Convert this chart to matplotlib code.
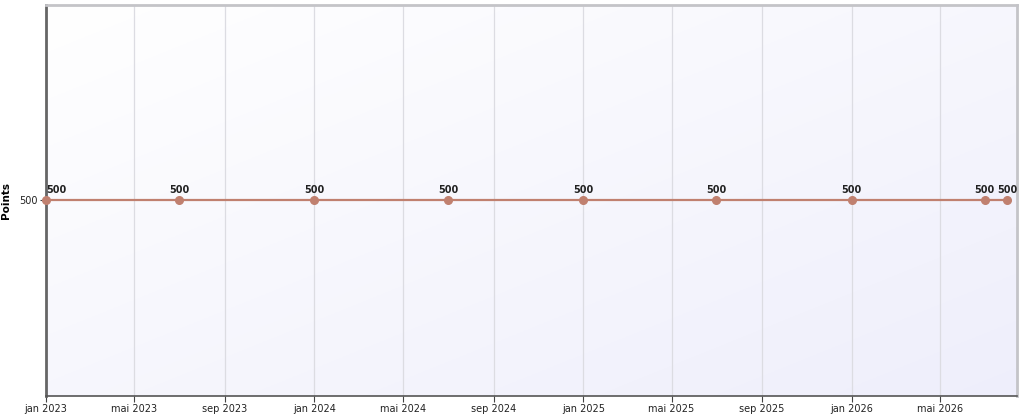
import datetime as dt
import numpy as np
import matplotlib
matplotlib.use("Agg")
import matplotlib.pyplot as plt
import matplotlib.dates as mdates

# data
dates = [dt.date(2023, 1, 1), dt.date(2023, 7, 1), dt.date(2024, 1, 1),
         dt.date(2024, 7, 1), dt.date(2025, 1, 1), dt.date(2025, 7, 1),
         dt.date(2026, 1, 1), dt.date(2026, 7, 1), dt.date(2026, 8, 1)]
points = [500, 500, 500, 500, 500, 500, 500, 500, 500]
tick_dates = [dt.date(2023, 1, 1), dt.date(2023, 5, 1), dt.date(2023, 9, 1),
              dt.date(2024, 1, 1), dt.date(2024, 5, 1), dt.date(2024, 9, 1),
              dt.date(2025, 1, 1), dt.date(2025, 5, 1), dt.date(2025, 9, 1),
              dt.date(2026, 1, 1), dt.date(2026, 5, 1)]
month_names = {1: "jan", 5: "mai", 9: "sep"}
tick_labels = [month_names[d.month] + " " + str(d.year) for d in tick_dates]

line_color = "#c0806f"

fig = plt.figure(figsize=(10.24, 4.17), dpi=100)
ax = fig.add_axes([46 / 1024, 21 / 417, 971 / 1024, 391 / 417])

# soft gradient background, lighter top-left, lavender bottom-right
grad = np.linspace(0, 1, 256)
gx, gy = np.meshgrid(grad, grad)
g = (gx + gy) / 2
c0 = np.array([1.0, 1.0, 1.0])
c1 = np.array([0.935, 0.935, 0.985])
img = c0[None, None, :] * (1 - g[..., None]) + c1[None, None, :] * g[..., None]
ax.imshow(img, extent=[0, 1, 0, 1], transform=ax.transAxes, aspect="auto", zorder=0)

xnum = mdates.date2num(dates)
ax.plot(xnum, points, color=line_color, lw=1.6, marker="o", ms=5.5, zorder=3, clip_on=False)
for x, y in zip(xnum, points):
    ax.annotate(str(y), (x, y), xytext=(0, 4), textcoords="offset points",
                ha="center" if x != xnum[0] else "left", va="bottom",
                fontsize=7, fontweight="bold", color="#222222", zorder=4)

ax.set_xlim(mdates.date2num(dt.date(2023, 1, 1)), mdates.date2num(dt.date(2026, 8, 14)))
ax.set_ylim(0, 1000)
ax.set_yticks([500])
ax.set_yticklabels(["500"], fontsize=7, color="#222222")
ax.set_xticks(mdates.date2num(tick_dates))
ax.set_xticklabels(tick_labels, fontsize=7, color="#222222")
ax.grid(axis="x", color="#dcdce2", lw=0.9, zorder=1)
ax.set_ylabel("Points", fontsize=7.5, fontweight="bold", labelpad=6)

ax.tick_params(axis="both", length=4, width=0.8, color="#444444", pad=2)
ax.spines["left"].set_color("#666666")
ax.spines["left"].set_linewidth(2)
ax.spines["bottom"].set_color("#555555")
ax.spines["bottom"].set_linewidth(1.2)
ax.spines["top"].set_color("#c4c4c8")
ax.spines["top"].set_linewidth(2)
ax.spines["right"].set_color("#c4c4c8")
ax.spines["right"].set_linewidth(2)

fig.savefig("out.png", dpi=100)
